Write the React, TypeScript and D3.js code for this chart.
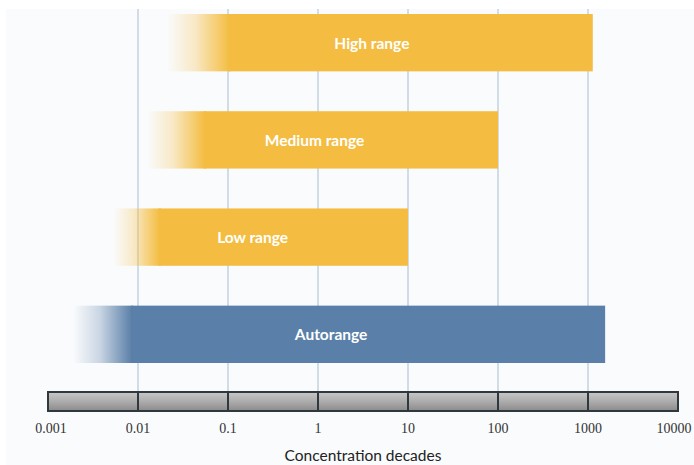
import React from "react";
import * as d3 from "d3";

const categories = ["High range", "Medium range", "Low range", "Autorange"];
const fadeStart = [0.021, 0.0126, 0.0053, 0.0019];
const solidStart = [0.105, 0.0555, 0.0175, 0.0086];
const rangeEnd = [1130, 100, 10, 1550];
const barColors = ["#f4bd42", "#f4bd42", "#f4bd42", "#5a7fa8"];
const tickValues = [0.001, 0.01, 0.1, 1, 10, 100, 1000, 10000];
const tickLabels = ["0.001", "0.01", "0.1", "1", "10", "100", "1000", "10000"];
const axisTitle = "Concentration decades";

const W = 694;
const H = 465;

export default function App() {
  const x = d3.scaleLog().domain([0.001, 10000]).range([48, 678]);
  const y = d3
    .scaleBand<string>()
    .domain(categories)
    .range([14, 363])
    .paddingInner(0.41)
    .paddingOuter(0);
  const font = "Lato, 'Open Sans', 'DejaVu Sans', sans-serif";
  const axisTop = 392;
  const axisBottom = 411;

  return (
    <svg
      width={W}
      height={H}
      viewBox={`0 0 ${W} ${H}`}
      style={{ position: "absolute", left: 0, top: 0, display: "block" }}
    >
      <defs>
        {categories.map((c, i) => {
          const x0 = x(fadeStart[i]);
          const x1 = x(solidStart[i]);
          return (
            <linearGradient
              key={c}
              id={`fade${i}`}
              gradientUnits="userSpaceOnUse"
              x1={x0}
              x2={x1}
              y1={0}
              y2={0}
            >
              <stop offset="0" stopColor={barColors[i]} stopOpacity={0} />
              <stop offset="0.45" stopColor={barColors[i]} stopOpacity={0.3} />
              <stop offset="0.8" stopColor={barColors[i]} stopOpacity={0.75} />
              <stop offset="1" stopColor={barColors[i]} stopOpacity={1} />
            </linearGradient>
          );
        })}
        <linearGradient id="axisGrad" x1="0" x2="0" y1="0" y2="1">
          <stop offset="0" stopColor="#c8c8c8" />
          <stop offset="0.5" stopColor="#acacac" />
          <stop offset="1" stopColor="#8a8a8a" />
        </linearGradient>
      </defs>
      <rect x={0} y={0} width={W} height={H} fill="#ffffff" />
      <rect x={6} y={9} width={W - 6} height={H - 9} fill="#fafbfd" />
      {tickValues.slice(1, -1).map((v) => (
        <line
          key={`g${v}`}
          x1={x(v)}
          x2={x(v)}
          y1={9}
          y2={axisTop}
          stroke="#a9bdd0"
          strokeWidth={1}
        />
      ))}
      {categories.map((c, i) => {
        const top = y(c)!;
        const bw = y.bandwidth();
        const x0 = x(fadeStart[i]);
        const x1 = x(solidStart[i]);
        const x2 = x(rangeEnd[i]);
        return (
          <g key={c}>
            <rect x={x0} y={top} width={x1 - x0 + 1} height={bw} fill={`url(#fade${i})`} />
            <rect x={x1 - 1} y={top} width={x2 - x1 + 1} height={bw} fill={barColors[i]} />
            <text
              x={(x0 + x2) / 2 - 8}
              y={top + bw / 2}
              textAnchor="middle"
              dominantBaseline="central"
              fill="#ffffff"
              fontFamily={font}
              fontWeight={700}
              fontSize={15.5}
            >
              {c}
            </text>
          </g>
        );
      })}
      <rect
        x={x(0.001)}
        y={axisTop}
        width={x(10000) - x(0.001)}
        height={axisBottom - axisTop}
        fill="url(#axisGrad)"
        stroke="#2e383d"
        strokeWidth={2}
      />
      {tickValues.slice(1, -1).map((v) => (
        <line
          key={`d${v}`}
          x1={x(v)}
          x2={x(v)}
          y1={axisTop}
          y2={axisBottom}
          stroke="#2e383d"
          strokeWidth={2}
        />
      ))}
      {tickValues.map((v, i) => (
        <text
          key={`t${v}`}
          x={x(v) + (i === 0 ? 3 : i === tickValues.length - 1 ? -4 : 0)}
          y={428}
          textAnchor="middle"
          dominantBaseline="central"
          fill="#333333"
          fontFamily="'Liberation Serif', serif"
          fontSize={14}
        >
          {tickLabels[i]}
        </text>
      ))}
      <text
        x={363}
        y={455}
        textAnchor="middle"
        dominantBaseline="central"
        fill="#222222"
        fontFamily={font}
        fontSize={15.5}
      >
        {axisTitle}
      </text>
    </svg>
  );
}
